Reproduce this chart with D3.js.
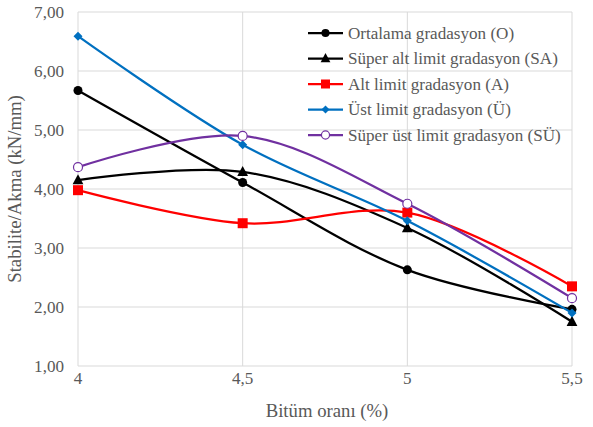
<!DOCTYPE html>
<html>
<head>
<meta charset="utf-8">
<script src="https://cdn.jsdelivr.net/npm/d3@7"></script>
<style>
  body { margin: 0; background: #fff; }
</style>
</head>
<body>
<div id="chart"></div>
<script>
// bitüm oranı (%)
var xValues = [4, 4.5, 5, 5.5];
var xTickLabels = ["4", "4,5", "5", "5,5"];
var yTicks = [1, 2, 3, 4, 5, 6, 7];

var ortalama  = [5.67, 4.11, 2.63, 1.96];
var superAlt  = [4.15, 4.29, 3.34, 1.75];
var altLimit  = [3.98, 3.42, 3.60, 2.35];
var ustLimit  = [6.59, 4.75, 3.46, 1.90];
var superUst  = [4.37, 4.90, 3.75, 2.15];

var seriesNames = ["Ortalama gradasyon (O)", "Süper alt limit gradasyon (SA)",
  "Alt limit gradasyon (A)", "Üst limit gradasyon (Ü)", "Süper üst limit gradasyon (SÜ)"];

var series = [
  { name: seriesNames[0], values: ortalama, color: "#000000", marker: "circle" },
  { name: seriesNames[1], values: superAlt, color: "#000000", marker: "triangle" },
  { name: seriesNames[2], values: altLimit, color: "#ff0000", marker: "square" },
  { name: seriesNames[3], values: ustLimit, color: "#0070c0", marker: "diamond" },
  { name: seriesNames[4], values: superUst, color: "#7030a0", marker: "open" }
];

var W = 593, H = 427,
    pLeft = 78, pRight = 572, pTop = 12, pBottom = 366;

// pick a serif face that is really installed, then size text to the reference widths
var ctx = document.createElement("canvas").getContext("2d");
function widthIn(font, s) { ctx.font = font; return ctx.measureText(s).width; }
var probe = "Süper alt limit gradasyon (SA) Wmi0123";
var FONT = ["Liberation Serif", "DejaVu Serif", "Noto Serif", "Tinos", "Times New Roman", "FreeSerif"]
  .filter(function(f) {
    return widthIn("16px '" + f + "', monospace", probe) !== widthIn("16px monospace", probe);
  })[0];
FONT = FONT ? "'" + FONT + "', serif" : "serif";
var k = 210 / widthIn("16px " + FONT, seriesNames[1]);
var fsLabel = 16 * k, fsTitle = 17.5 * k;

var x = d3.scaleLinear().domain([4, 5.5]).range([pLeft, pRight]);
var y = d3.scaleLinear().domain([1, 7]).range([pBottom, pTop]);

var svg = d3.select("#chart").append("svg")
  .attr("width", W).attr("height", H);

// grid
svg.append("g").selectAll("line")
  .data(yTicks).enter().append("line")
  .attr("x1", pLeft).attr("x2", pRight)
  .attr("y1", function(d){ return y(d); }).attr("y2", function(d){ return y(d); })
  .style("stroke", "#d9d9d9").style("stroke-width", 1);

svg.append("g").selectAll("line")
  .data(xValues).enter().append("line")
  .attr("y1", pTop).attr("y2", pBottom)
  .attr("x1", function(d){ return x(d); }).attr("x2", function(d){ return x(d); })
  .style("stroke", "#d9d9d9").style("stroke-width", 1);

function txt(sel, size) {
  return sel.style("font-family", FONT).style("font-size", (size || fsLabel) + "px").style("fill", "#595959");
}

// tick labels
txt(svg.append("g").selectAll("text")
  .data(yTicks).enter().append("text")
  .attr("x", pLeft - 14).attr("y", function(d){ return y(d); })
  .attr("dy", "0.35em").attr("text-anchor", "end")
  .text(function(d){ return d3.format(".2f")(d).replace(".", ","); }));

txt(svg.append("g").selectAll("text")
  .data(xValues).enter().append("text")
  .attr("x", function(d){ return x(d); }).attr("y", pBottom + 18)
  .attr("text-anchor", "middle")
  .text(function(d, i){ return xTickLabels[i]; }));

// axis titles
txt(svg.append("text")
  .attr("x", 327).attr("y", 417)
  .attr("text-anchor", "middle")
  .text("Bitüm oranı (%)"), fsTitle);

txt(svg.append("text")
  .attr("transform", "translate(21," + ((pTop + pBottom) / 2) + ") rotate(-90)")
  .attr("text-anchor", "middle")
  .text("Stabilite/Akma (kN/mm)"), fsTitle);

var line = d3.line()
  .x(function(d){ return x(d[0]); })
  .y(function(d){ return y(d[1]); })
  .curve(d3.curveCatmullRom.alpha(0.5));

function drawMarker(g, type, color, px, py, small) {
  var s = small ? 0.9 : 1;
  if (type === "circle") {
    g.append("circle").attr("cx", px).attr("cy", py).attr("r", 4.5 * s).style("fill", color);
  } else if (type === "triangle") {
    var t = 6 * s;
    g.append("path").attr("d", "M" + px + "," + (py - t) + "L" + (px + t * 0.9) + "," + (py + t * 0.7) + "L" + (px - t * 0.9) + "," + (py + t * 0.7) + "Z")
      .style("fill", color);
  } else if (type === "square") {
    var q = 5 * s;
    g.append("rect").attr("x", px - q).attr("y", py - q).attr("width", 2 * q).attr("height", 2 * q).style("fill", color);
  } else if (type === "diamond") {
    var d = 4.5 * s;
    g.append("path").attr("d", "M" + px + "," + (py - d) + "L" + (px + d) + "," + py + "L" + px + "," + (py + d) + "L" + (px - d) + "," + py + "Z")
      .style("fill", color);
  } else if (type === "open") {
    g.append("circle").attr("cx", px).attr("cy", py).attr("r", 4.5 * s)
      .style("fill", "#fff").style("stroke", color).style("stroke-width", 1.2);
  }
}

series.forEach(function(s) {
  var pts = xValues.map(function(v, i){ return [v, s.values[i]]; });
  svg.append("path")
    .attr("d", line(pts))
    .style("fill", "none")
    .style("stroke", s.color)
    .style("stroke-width", 2.25);
  var g = svg.append("g");
  pts.forEach(function(p) { drawMarker(g, s.marker, s.color, x(p[0]), y(p[1])); });
});

// legend
var legend = svg.append("g");
series.forEach(function(s, i) {
  var ly = 33 + i * 25.5;
  legend.append("line")
    .attr("x1", 308).attr("x2", 343).attr("y1", ly).attr("y2", ly)
    .style("stroke", s.color).style("stroke-width", 2.25);
  drawMarker(legend, s.marker, s.color, 325.5, ly, true);
  txt(legend.append("text")
    .attr("x", 348).attr("y", ly).attr("dy", "0.35em")
    .text(s.name));
});
</script>
</body>
</html>
